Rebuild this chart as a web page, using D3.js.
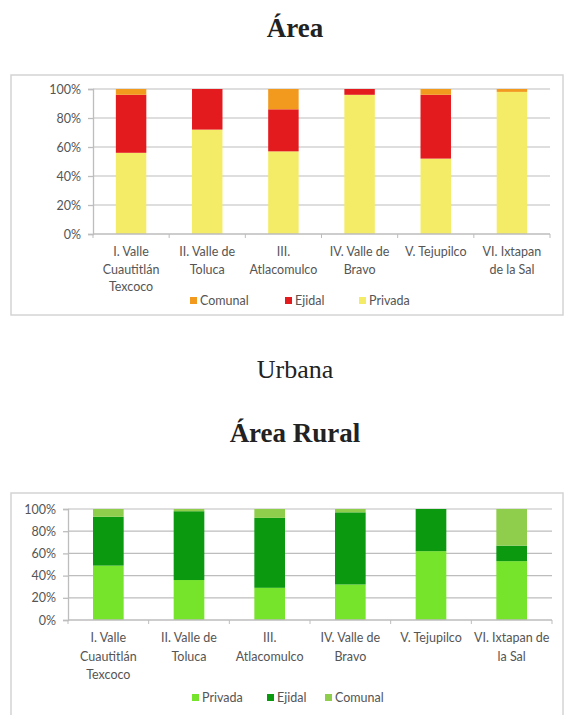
<!DOCTYPE html>
<html>
<head>
<meta charset="utf-8">
<script src="https://cdn.jsdelivr.net/npm/d3@7"></script>
<style>
  body { margin: 0; background: #fff; }
  svg { display: block; }
  .tick text { font-family: Lato, "Open Sans", sans-serif; font-size: 12.5px; fill: #555; }
  .cat { font-family: Lato, "Open Sans", sans-serif; font-size: 12.5px; fill: #555; }
  .leg { font-family: Lato, "Open Sans", sans-serif; font-size: 12.5px; fill: #555; }
  .title { font-family: "Liberation Serif", "Times New Roman", serif; fill: #222; }
</style>
</head>
<body>
<div id="chart"></div>
<script>
// data (percent)
const regions = ["I. Valle Cuautitlán Texcoco", "II. Valle de Toluca", "III. Atlacomulco",
  "IV. Valle de Bravo", "V. Tejupilco", "VI. Ixtapan de la Sal"];
const labelsUrbana = [["I. Valle", "Cuautitlán", "Texcoco"], ["II. Valle de", "Toluca"], ["III.", "Atlacomulco"],
  ["IV. Valle de", "Bravo"], ["V. Tejupilco"], ["VI. Ixtapan", "de la Sal"]];
const labelsRural = [["I. Valle", "Cuautitlán", "Texcoco"], ["II. Valle de", "Toluca"], ["III.", "Atlacomulco"],
  ["IV. Valle de", "Bravo"], ["V. Tejupilco"], ["VI. Ixtapan de", "la Sal"]];

const urbPrivada = [56, 72, 57, 96, 52, 98];
const urbEjidal = [40, 28, 29, 4, 44, 0];
const urbComunal = [4, 0, 14, 0, 4, 2];

const rurPrivada = [49, 36, 29, 32, 62, 53];
const rurEjidal = [44, 62, 63, 65, 38, 14];
const rurComunal = [7, 2, 8, 3, 0, 33];

const yTicks = [0, 20, 40, 60, 80, 100];

const svg = d3.select("#chart").append("svg")
  .attr("width", 564)
  .attr("height", 715);

// titles
svg.append("text").attr("class", "title")
  .attr("x", 295).attr("y", 37)
  .attr("text-anchor", "middle")
  .style("font-size", "27px").style("font-weight", "bold")
  .text("Área");
svg.append("text").attr("class", "title")
  .attr("x", 295).attr("y", 378)
  .attr("text-anchor", "middle")
  .style("font-size", "26px")
  .text("Urbana");
svg.append("text").attr("class", "title")
  .attr("x", 295).attr("y", 442)
  .attr("text-anchor", "middle")
  .style("font-size", "27px").style("font-weight", "bold")
  .text("Área Rural");

function drawChart(opt) {
  const g = svg.append("g");

  // frame
  g.append("rect")
    .attr("x", opt.frame[0]).attr("y", opt.frame[1])
    .attr("width", opt.frame[2] - opt.frame[0])
    .attr("height", opt.frame[3] - opt.frame[1])
    .attr("fill", "none")
    .attr("stroke", "#d4d4d4")
    .attr("stroke-width", 1.5);

  const rows = regions.map((r, i) => ({
    region: r,
    Privada: opt.privada[i],
    Ejidal: opt.ejidal[i],
    Comunal: opt.comunal[i]
  }));

  const x = d3.scaleBand()
    .domain(regions)
    .range([opt.left, opt.right])
    .paddingInner(opt.pad)
    .paddingOuter(opt.pad / 2);

  const y = d3.scaleLinear()
    .domain([0, 100])
    .range([opt.bottom, opt.top]);

  // gridlines
  g.append("g")
    .selectAll("line")
    .data(yTicks.slice(1))
    .join("line")
    .attr("x1", opt.left).attr("x2", opt.right)
    .attr("y1", d => y(d)).attr("y2", d => y(d))
    .attr("stroke", "#bdbdbd")
    .attr("stroke-width", 1.2);

  // y axis
  const yAxis = g.append("g")
    .attr("transform", `translate(${opt.left},0)`)
    .call(d3.axisLeft(y).tickValues(yTicks).tickFormat(d => d + "%").tickSize(5).tickPadding(7));
  yAxis.selectAll("path, line").attr("stroke", "#bdbdbd").attr("stroke-width", 1.3);

  // stacked bars
  const stack = d3.stack().keys(["Privada", "Ejidal", "Comunal"]);
  const series = stack(rows);

  g.append("g")
    .selectAll("g")
    .data(series)
    .join("g")
    .attr("fill", d => opt.colors[d.key])
    .selectAll("rect")
    .data(d => d)
    .join("rect")
    .attr("x", d => x(d.data.region))
    .attr("width", x.bandwidth())
    .attr("y", d => y(d[1]))
    .attr("height", d => y(d[0]) - y(d[1]));

  // x axis with ticks between categories
  const step = x.step();
  const xAx = g.append("g").attr("transform", `translate(0,${opt.bottom})`);
  xAx.append("line")
    .attr("x1", opt.left).attr("x2", opt.right)
    .attr("stroke", "#bdbdbd").attr("stroke-width", 1.3);
  xAx.selectAll(".sep")
    .data(d3.range(regions.length + 1))
    .join("line")
    .attr("class", "sep")
    .attr("x1", i => opt.left + i * step).attr("x2", i => opt.left + i * step)
    .attr("y1", 0).attr("y2", 4)
    .attr("stroke", "#bdbdbd");

  // category labels
  g.append("g")
    .selectAll("text")
    .data(regions)
    .join("text")
    .attr("class", "cat")
    .attr("text-anchor", "middle")
    .attr("x", d => x(d) + x.bandwidth() / 2)
    .attr("y", opt.labelY)
    .selectAll("tspan")
    .data((d, i) => opt.labels[i])
    .join("tspan")
    .attr("x", function () { return this.parentNode.getAttribute("x"); })
    .attr("dy", (d, i) => i === 0 ? 0 : opt.lineH)
    .text(d => d);

  // legend
  const leg = g.append("g");
  opt.legend.forEach((k, i) => {
    const lx = opt.legendX[i];
    leg.append("rect")
      .attr("x", lx).attr("y", opt.legendY - 4)
      .attr("width", 7).attr("height", 7)
      .attr("fill", opt.colors[k]);
    leg.append("text")
      .attr("class", "leg")
      .attr("x", lx + 10).attr("y", opt.legendY + 4)
      .text(k);
  });
}

drawChart({
  frame: [11, 75, 563, 315],
  left: 93, right: 550, top: 89, bottom: 234,
  pad: 0.6,
  privada: urbPrivada, ejidal: urbEjidal, comunal: urbComunal,
  colors: { Privada: "#f4ec66", Ejidal: "#e31b1f", Comunal: "#f29a1e" },
  labels: labelsUrbana,
  labelY: 256, lineH: 17.5,
  legend: ["Comunal", "Ejidal", "Privada"],
  legendX: [190, 285, 359],
  legendY: 301
});

drawChart({
  frame: [11, 493, 563, 730],
  left: 68, right: 552, top: 509, bottom: 620,
  pad: 0.62,
  privada: rurPrivada, ejidal: rurEjidal, comunal: rurComunal,
  colors: { Privada: "#76e42a", Ejidal: "#0b9a0f", Comunal: "#8ece4c" },
  labels: labelsRural,
  labelY: 642, lineH: 18.5,
  legend: ["Privada", "Ejidal", "Comunal"],
  legendX: [192, 267, 325],
  legendY: 698
});
</script>
</body>
</html>
